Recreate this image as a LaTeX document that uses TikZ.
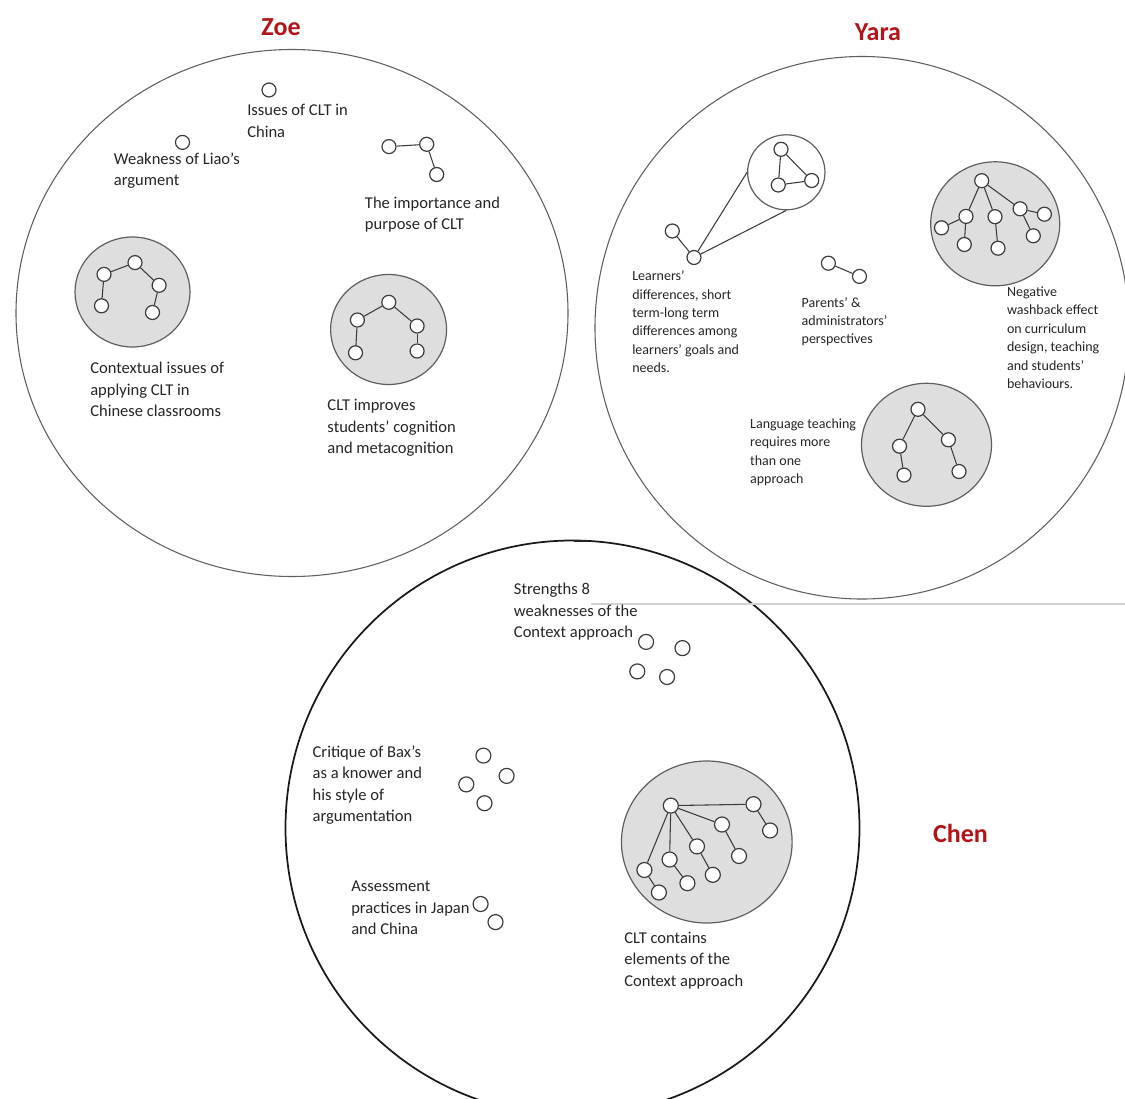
\documentclass[tikz,border=0pt]{standalone}
\usepackage{fontspec}
\setmainfont{Carlito}
\usetikzlibrary{shapes.geometric}
\definecolor{titlered}{RGB}{178,20,24}
\definecolor{txtc}{RGB}{38,38,38}
\definecolor{ringgrey}{RGB}{95,95,95}
\definecolor{clusterfill}{RGB}{222,222,222}
\definecolor{dotline}{RGB}{60,60,60}
\definecolor{faintline}{RGB}{210,210,210}
\begin{document}
\begin{tikzpicture}[x=0.75pt,y=-0.75pt,
  ring/.style={ellipse,draw=ringgrey,line width=0.8pt,inner sep=0pt},
  darkring/.style={ellipse,draw=black!90,line width=1.3pt,inner sep=0pt},
  cluster/.style={ellipse,draw=ringgrey,fill=clusterfill,line width=0.9pt,inner sep=0pt},
  dot/.style={circle,draw=dotline,fill=white,line width=0.9pt,inner sep=0pt,minimum size=10.5pt},
  cdot/.style={dot,minimum size=11.25pt},
  link/.style={draw=dotline,line width=0.8pt},
  ttl/.style={anchor=base,inner sep=0pt,text=titlered,font=\fontsize{19.5pt}{22pt}\selectfont\bfseries},
  zt/.style={anchor=north west,inner sep=0pt,align=left,text=txtc,
    font=\fontsize{12.4pt}{16pt}\selectfont,execute at begin node={\rule{0pt}{12.4pt}}},
  yt/.style={anchor=north west,inner sep=0pt,align=left,text=txtc,
    font=\fontsize{10.5pt}{13.8pt}\selectfont,execute at begin node={\rule{0pt}{10.5pt}}},
  ct/.style={zt,font=\fontsize{12.4pt}{16.05pt}\selectfont}]
\useasboundingbox (0,0) rectangle (1125,1099);
\fill[white] (0,0) rectangle (1125,1099);
\begin{scope}
\clip (0,0) rectangle (1125,1099);

% ---------------- big rings ----------------
\node[ring,minimum width=414pt,minimum height=395.25pt] (zoe) at (292,313) {};
\node[ring,minimum width=400.5pt,minimum height=406.9pt] (yara) at (862,327.75) {};
\node[darkring,minimum width=430.5pt,minimum height=431.25pt] (chen) at (572.5,828) {};
\coordinate (marka) at (574,541);
\coordinate (markb) at (588,541);
\draw[line width=2.2pt,black!85] (marka) -- (markb);
\coordinate (hla) at (591,604);
\coordinate (hlb) at (1125,604);
\draw[faintline,line width=0.8pt] (hla) -- (hlb);

% ---------------- titles ----------------
\node[ttl] (tzoe) at (281,36) {Zoe};
\node[ttl] (tyara) at (878,41) {Yara};
\node[ttl] (tchen) at (960.5,842.5) {Chen};

% ---------------- Zoe ----------------
\node[dot] (z1) at (269,90) {};
\node[zt] (lz1) at (247,104.3) {Issues of CLT in\\China};
\node[dot] (z2) at (182.5,142.4) {};
\node[zt] (lz2) at (113.7,152.5) {Weakness of Liao’s\\argument};
\node[dot] (z3a) at (389,146.6) {};
\node[dot] (z3b) at (426.7,144.3) {};
\node[dot] (z3c) at (436.7,174.5) {};
\draw[link] (z3a) -- (z3b);
\draw[link] (z3b) -- (z3c);
\node[zt] (lz3) at (364.7,196.8) {The importance and\\purpose of CLT};

\node[cluster,minimum width=86.25pt,minimum height=82.5pt] (zg1) at (132.5,292) {};
\node[dot] (z4a) at (104,274.4) {};
\node[dot] (z4b) at (135,262.6) {};
\node[dot] (z4c) at (159.1,285.3) {};
\node[dot] (z4d) at (101.5,305.8) {};
\node[dot] (z4e) at (152.5,312.5) {};
\draw[link] (z4a) -- (z4b);
\draw[link] (z4b) -- (z4c);
\draw[link] (z4a) -- (z4d);
\draw[link] (z4c) -- (z4e);
\node[zt] (lz4) at (90,362.2) {Contextual issues of\\applying CLT in\\Chinese classrooms};

\node[cluster,minimum width=87pt,minimum height=82.5pt] (zg2) at (388.6,329.5) {};
\node[dot] (z5a) at (388.8,302.3) {};
\node[dot] (z5b) at (357.4,320) {};
\node[dot] (z5c) at (417.1,326) {};
\node[dot] (z5d) at (355.5,352.8) {};
\node[dot] (z5e) at (417.1,351) {};
\draw[link] (z5a) -- (z5b);
\draw[link] (z5a) -- (z5c);
\draw[link] (z5b) -- (z5d);
\draw[link] (z5c) -- (z5e);
\node[zt] (lz5) at (327.2,399.3) {CLT improves\\students’ cognition\\and metacognition};

% ---------------- Yara ----------------
\node[ellipse,draw=ringgrey,fill=white,line width=0.9pt,inner sep=0pt,
      minimum width=58pt,minimum height=56.25pt] (mag) at (786.3,172.3) {};
\node[dot] (t1) at (781,149.3) {};
\node[dot] (t2) at (778.3,185) {};
\node[dot] (t3) at (811.7,180.5) {};
\draw[link] (t1) -- (t2);
\draw[link] (t2) -- (t3);
\draw[link] (t3) -- (t1);
\node[dot] (y0) at (672.3,231) {};
\node[dot] (y1) at (694,257.5) {};
\draw[link] (y0) -- (y1);
\draw[link] (y1) -- (mag.west);
\draw[link] (y1) -- (mag.south);
\node[yt] (ly1) at (632,270.5) {Learners’\\differences, short\\term-long term\\differences among\\learners’ goals and\\needs.};

\node[dot] (p1) at (828.4,263.2) {};
\node[dot] (p2) at (859.5,276.4) {};
\draw[link] (p1) -- (p2);
\node[yt] (ly2) at (801.4,297) {Parents’ \&\\administrators’\\perspectives};

\node[cluster,minimum width=96.75pt,minimum height=93pt] (yg1) at (995.2,223.8) {};
\node[dot] (n0) at (981.7,180.7) {};
\node[dot] (na) at (966,216.4) {};
\node[dot] (nb) at (941.5,227.8) {};
\node[dot] (nc) at (964.3,244.5) {};
\node[dot] (nd) at (995,216.7) {};
\node[dot] (ne) at (998,248.2) {};
\node[dot] (nf) at (1020.1,208.8) {};
\node[dot] (ng) at (1044.4,214.2) {};
\node[dot] (nh) at (1033.3,235.8) {};
\draw[link] (n0) -- (na);
\draw[link] (na) -- (nb);
\draw[link] (na) -- (nc);
\draw[link] (n0) -- (nd);
\draw[link] (nd) -- (ne);
\draw[link] (n0) -- (nf);
\draw[link] (nf) -- (ng);
\draw[link] (nf) -- (nh);
\node[yt] (ly3) at (1006.8,286.5) {Negative\\washback effect\\on curriculum\\design, teaching\\and students’\\behaviours.};

\node[cluster,minimum width=97.5pt,minimum height=92.25pt] (yg2) at (926.5,444.8) {};
\node[dot] (m0) at (918,409.3) {};
\node[dot] (ml1) at (899.5,446.2) {};
\node[dot] (ml2) at (904,475.1) {};
\node[dot] (mr1) at (948.4,439.8) {};
\node[dot] (mr2) at (959,471.5) {};
\draw[link] (m0) -- (ml1);
\draw[link] (ml1) -- (ml2);
\draw[link] (m0) -- (mr1);
\draw[link] (mr1) -- (mr2);
\node[yt] (ly4) at (749.9,418.3) {Language teaching\\requires more\\than one\\approach};

% ---------------- Chen ----------------
\node[ct] (lc1) at (513.7,582.9) {Strengths 8\\weaknesses of the\\Context approach};
\node[cdot] (s1) at (646.1,641.9) {};
\node[cdot] (s2) at (682.5,648.1) {};
\node[cdot] (s3) at (637.3,671.4) {};
\node[cdot] (s4) at (667.1,677) {};

\node[ct] (lc2) at (312.4,745.3) {Critique of Bax’s\\as a knower and\\his style of\\argumentation};
\node[cdot] (k1) at (483.4,755.6) {};
\node[cdot] (k2) at (506.6,775.9) {};
\node[cdot] (k3) at (466.3,784.4) {};
\node[cdot] (k4) at (484.5,803.2) {};

\node[ct] (lc3) at (351,880.9) {Assessment\\practices in Japan\\and China};
\node[cdot] (a1) at (480.6,904) {};
\node[cdot] (a2) at (495.5,922.1) {};

\node[cluster,minimum width=128pt,minimum height=121.5pt] (cg) at (706.8,842) {};
\node[cdot] (r0) at (670.8,805.6) {};
\node[cdot] (rA) at (753.5,804.2) {};
\node[cdot] (rA2) at (770.1,830.5) {};
\node[cdot] (rB) at (722,824.5) {};
\node[cdot] (rB2) at (739,856) {};
\node[cdot] (rC) at (697,846.4) {};
\node[cdot] (rC2) at (712.8,874.8) {};
\node[cdot] (rD) at (669.6,859.5) {};
\node[cdot] (rD2) at (687.4,883.2) {};
\node[cdot] (rE) at (644.4,870) {};
\node[cdot] (rE2) at (658.9,892.5) {};
\draw[link] (r0) -- (rA);
\draw[link] (rA) -- (rA2);
\draw[link] (r0) -- (rB);
\draw[link] (rB) -- (rB2);
\draw[link] (r0) -- (rC);
\draw[link] (rC) -- (rC2);
\draw[link] (r0) -- (rD);
\draw[link] (rD) -- (rD2);
\draw[link] (r0) -- (rE);
\draw[link] (rE) -- (rE2);
\node[ct] (lc4) at (624,931.8) {CLT contains\\elements of the\\Context approach};
\end{scope}
\end{tikzpicture}
\end{document}
